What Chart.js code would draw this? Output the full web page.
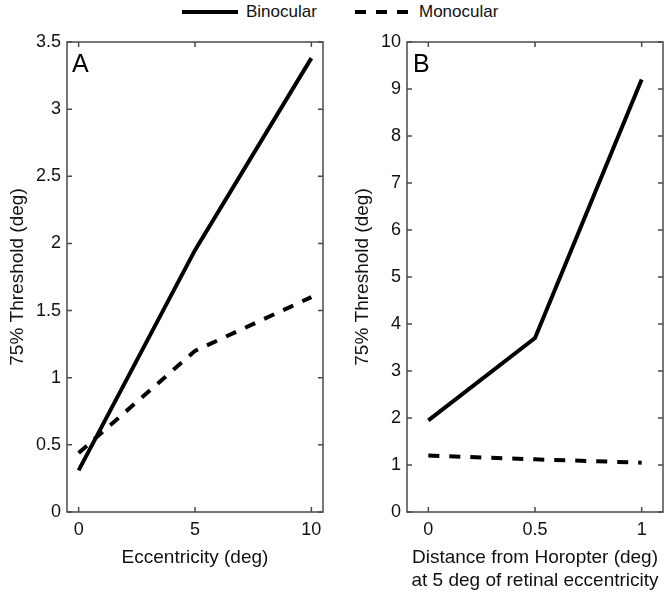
<!DOCTYPE html>
<html>
<head>
<meta charset="utf-8">
<script src="https://cdn.jsdelivr.net/npm/chart.js@4/dist/chart.umd.min.js"></script>
<style>
  body { margin: 0; background: #fff; font-family: "Liberation Sans", Arial, Helvetica, sans-serif; }
  #wrap { position: relative; width: 671px; height: 600px; }
  .panel { position: absolute; top: 0; height: 600px; }
  #legend { position: absolute; left: 0; top: 0; width: 671px; height: 26px; font-size: 17px; color: #111; }
  #legend span { position: absolute; top: 2px; }
  #legend svg { position: absolute; top: 6px; }
</style>
</head>
<body>
<div id="wrap">
  <div id="legend">
    <svg style="left:182px" width="56" height="12"><line x1="0" y1="6" x2="56" y2="6" stroke="#000" stroke-width="4"/></svg>
    <span style="left:246px">Binocular</span>
    <svg style="left:355px" width="56" height="12"><line x1="0" y1="6" x2="56" y2="6" stroke="#000" stroke-width="4" stroke-dasharray="11 10"/></svg>
    <span style="left:419px">Monocular</span>
  </div>
  <div class="panel" style="left:0;width:335px"><canvas id="chartA"></canvas></div>
  <div class="panel" style="left:335px;width:336px"><canvas id="chartB"></canvas></div>
</div>
<script>
// data panel A
const eccentricity = [0, 5, 10];
const binocularA = [0.31, 1.95, 3.38];
const monocularA = [0.44, 1.2, 1.6];
const xTicksA = [0, 5, 10];
const yTicksA = [0, 0.5, 1, 1.5, 2, 2.5, 3, 3.5];

// data panel B
const horopterDist = [0, 0.5, 1];
const binocularB = [1.95, 3.7, 9.2];
const monocularB = [1.2, 1.12, 1.05];
const xTicksB = [0, 0.5, 1];
const yTicksB = [0, 1, 2, 3, 4, 5, 6, 7, 8, 9, 10];

const FONT = '"Liberation Sans", Arial, Helvetica, sans-serif';
const AXIS_COLOR = '#4a4a4a';

// kotak sumbu + tick ke dalam (gaya matlab) + huruf panel
const boxTicks = {
    id: 'boxTicks',
    afterDraw(chart, args, opts) {
        const { ctx, chartArea: a, scales } = chart;
        ctx.save();
        ctx.strokeStyle = AXIS_COLOR;
        ctx.lineWidth = 1.5;
        ctx.strokeRect(a.left, a.top, a.right - a.left, a.bottom - a.top);
        ctx.beginPath();
        scales.x.ticks.forEach(t => {
            const px = scales.x.getPixelForValue(t.value);
            ctx.moveTo(px, a.bottom); ctx.lineTo(px, a.bottom - 5);
            ctx.moveTo(px, a.top); ctx.lineTo(px, a.top + 5);
        });
        scales.y.ticks.forEach(t => {
            const py = scales.y.getPixelForValue(t.value);
            ctx.moveTo(a.left, py); ctx.lineTo(a.left + 5, py);
            ctx.moveTo(a.right, py); ctx.lineTo(a.right - 5, py);
        });
        ctx.stroke();
        ctx.fillStyle = '#000';
        ctx.font = '25px ' + FONT;
        ctx.textBaseline = 'alphabetic';
        ctx.fillText(opts.letter, a.left + opts.dx, a.top + 30);
        ctx.restore();
    }
};

function makeChart(id, xs, bino, mono, xTicks, yTicks, opt) {
    const ctx = document.getElementById(id).getContext('2d');
    return new Chart(ctx, {
        type: 'line',
        data: {
            datasets: [
                {
                    label: 'Binocular',
                    data: xs.map((x, i) => ({ x: x, y: bino[i] })),
                    borderColor: '#000',
                    borderWidth: 4,
                    pointRadius: 0,
                    tension: 0
                },
                {
                    label: 'Monocular',
                    data: xs.map((x, i) => ({ x: x, y: mono[i] })),
                    borderColor: '#000',
                    borderWidth: 4,
                    borderDash: [11, 10],
                    borderCapStyle: 'butt',
                    pointRadius: 0,
                    tension: 0
                }
            ]
        },
        options: {
            responsive: true,
            maintainAspectRatio: false,
            animation: false,
            layout: { padding: { left: 0, right: opt.padRight, top: 42, bottom: 0 } },
            plugins: {
                legend: { display: false },
                tooltip: { enabled: false },
                boxTicks: { letter: opt.letter, dx: opt.letterDx }
            },
            scales: {
                x: {
                    type: 'linear',
                    min: opt.xMin,
                    max: opt.xMax,
                    grid: { display: false, drawTicks: false },
                    border: { display: false },
                    afterBuildTicks: s => { s.ticks = xTicks.map(v => ({ value: v })); },
                    afterFit: s => { s.height = 88; },
                    ticks: {
                        color: '#111',
                        padding: 7,
                        maxRotation: 0,
                        font: { family: FONT, size: 18 },
                        callback: v => String(v)
                    },
                    title: {
                        display: true,
                        text: opt.xTitle,
                        color: '#111',
                        font: { family: FONT, size: 19, lineHeight: 1.25 },
                        padding: { top: 0, bottom: opt.xTitlePad }
                    }
                },
                y: {
                    min: 0,
                    max: yTicks[yTicks.length - 1],
                    grid: { display: false, drawTicks: false },
                    border: { display: false },
                    afterBuildTicks: s => { s.ticks = yTicks.map(v => ({ value: v })); },
                    afterFit: s => { s.width = opt.yWidth; },
                    ticks: {
                        color: '#111',
                        padding: 6,
                        font: { family: FONT, size: 18 },
                        callback: v => String(v)
                    },
                    title: {
                        display: true,
                        text: '75% Threshold (deg)',
                        color: '#111',
                        font: { family: FONT, size: 19 },
                        padding: { top: opt.yTitlePad, bottom: 0 }
                    }
                }
            }
        },
        plugins: [boxTicks]
    });
}

makeChart('chartA', eccentricity, binocularA, monocularA, xTicksA, yTicksA, {
    xMin: -0.5, xMax: 10.5, padRight: 12, yWidth: 67, yTitlePad: 6,
    xTitle: 'Eccentricity (deg)', xTitlePad: 30, letter: 'A', letterDx: 5
});

makeChart('chartB', horopterDist, binocularB, monocularB, xTicksB, yTicksB, {
    xMin: -0.1, xMax: 1.1, padRight: 8, yWidth: 72, yTitlePad: 16,
    xTitle: ['Distance from Horopter (deg)', 'at 5 deg of retinal eccentricity'], xTitlePad: 7,
    letter: 'B', letterDx: 6
});
</script>
</body>
</html>
